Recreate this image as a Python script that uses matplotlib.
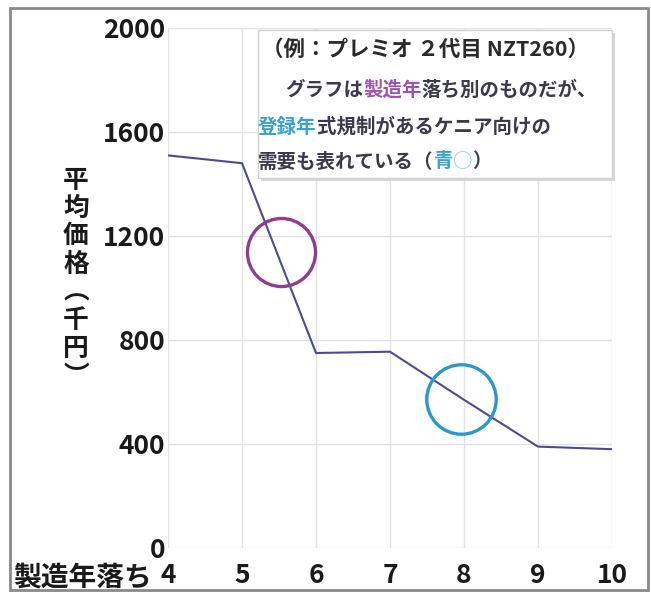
import matplotlib
matplotlib.use("Agg")
import matplotlib.pyplot as plt
from matplotlib.patches import Rectangle

plt.rcParams['font.family'] = ['Noto Sans CJK JP', 'DejaVu Sans']

# data
years = [4, 5, 6, 7, 8, 9, 10]
price = [1510, 1480, 750, 755, 570, 390, 380]
y_ticks = [0, 400, 800, 1200, 1600, 2000]
x_ticks = [4, 5, 6, 7, 8, 9, 10]
mark_purple = (5.53, 1140)
mark_blue = (7.96, 575)

W, H = 651, 595
fig = plt.figure(figsize=(W / 100, H / 100), dpi=100)
fig.patch.set_facecolor('white')

# outer frame
fig.add_artist(Rectangle((10 / W, 1 - 590 / H), 638 / W, 582 / H, transform=fig.transFigure,
                         fill=False, edgecolor='#8a8a8a', linewidth=2))

ax = fig.add_axes([168 / W, 1 - 548 / H, (612 - 168) / W, (548 - 28) / H])
ax.set_xlim(4, 10)
ax.set_ylim(0, 2000)
for s in ax.spines.values():
    s.set_visible(False)
ax.grid(True, color='#e2e2e2', linewidth=1)
ax.set_axisbelow(True)
ax.set_xticks(x_ticks)
ax.set_yticks(y_ticks)
ax.tick_params(length=0, labelsize=19, labelcolor='#1a1a1a', pad=2)
for t in ax.get_xticklabels() + ax.get_yticklabels():
    t.set_fontweight('bold')
ax.tick_params(axis='x', pad=10)

ax.plot(years, price, color='#4b4a96', linewidth=1.5, zorder=3)
ax.plot(*mark_purple, marker='o', markersize=49, markerfacecolor='none',
        markeredgecolor='#8e3d93', markeredgewidth=2.4, zorder=4)
ax.plot(*mark_blue, marker='o', markersize=50, markerfacecolor='none',
        markeredgecolor='#2b98c8', markeredgewidth=2.4, zorder=4)

# y label (vertical stacked)
ylab = ['平', '均', '価', '格', '︵', '千', '円', '︶']
for i, ch in enumerate(ylab):
    fig.text(76 / W, 1 - (180 + i * 28) / H, ch, fontsize=18.5, fontweight='bold',
             ha='center', va='center', color='#1a1a1a')

# x label
fig.text(13 / W, 1 - 578 / H, '製造年落ち', fontsize=20, fontweight='bold',
         ha='left', va='center', color='#1a1a1a')

# annotation box
fig.add_artist(Rectangle((261 / W, 1 - 181 / H), 354 / W, 148 / H, transform=fig.transFigure,
                         facecolor='#d8d8d8', edgecolor='none', zorder=5))
fig.add_artist(Rectangle((258 / W, 1 - 178 / H), 354 / W, 148 / H, transform=fig.transFigure,
                         facecolor='white', edgecolor='#cfcfcf', linewidth=1, zorder=6))

fig.text(262 / W, 1 - 49 / H, '（例：プレミオ ２代目 NZT260）', fontsize=15.5, fontweight='bold',
         ha='left', va='center', color='#2a2a2a', zorder=7)

dark = '#3a3a4a'
purple = '#9b55b0'
blue = '#3aa2d2'
lightblue = '#8fd0ea'
lines = [
    (285, 90, [('グラフは', dark), ('製造年', purple), ('落ち別のものだが、', dark)]),
    (258, 127, [('登録年', blue), ('式規制があるケニア向けの', dark)]),
    (258, 162, [('需要も表れている（', dark), ('青', blue), ('○', lightblue), ('）', dark)]),
]
fig.canvas.draw()
renderer = fig.canvas.get_renderer()
for x0, y0, parts in lines:
    x = x0
    for txt, col in parts:
        t = fig.text(x / W, 1 - y0 / H, txt, fontsize=14, fontweight='bold',
                     ha='left', va='center', color=col, zorder=7)
        bb = t.get_window_extent(renderer=renderer)
        x += bb.width

fig.savefig('out.png', dpi=100, facecolor='white')
